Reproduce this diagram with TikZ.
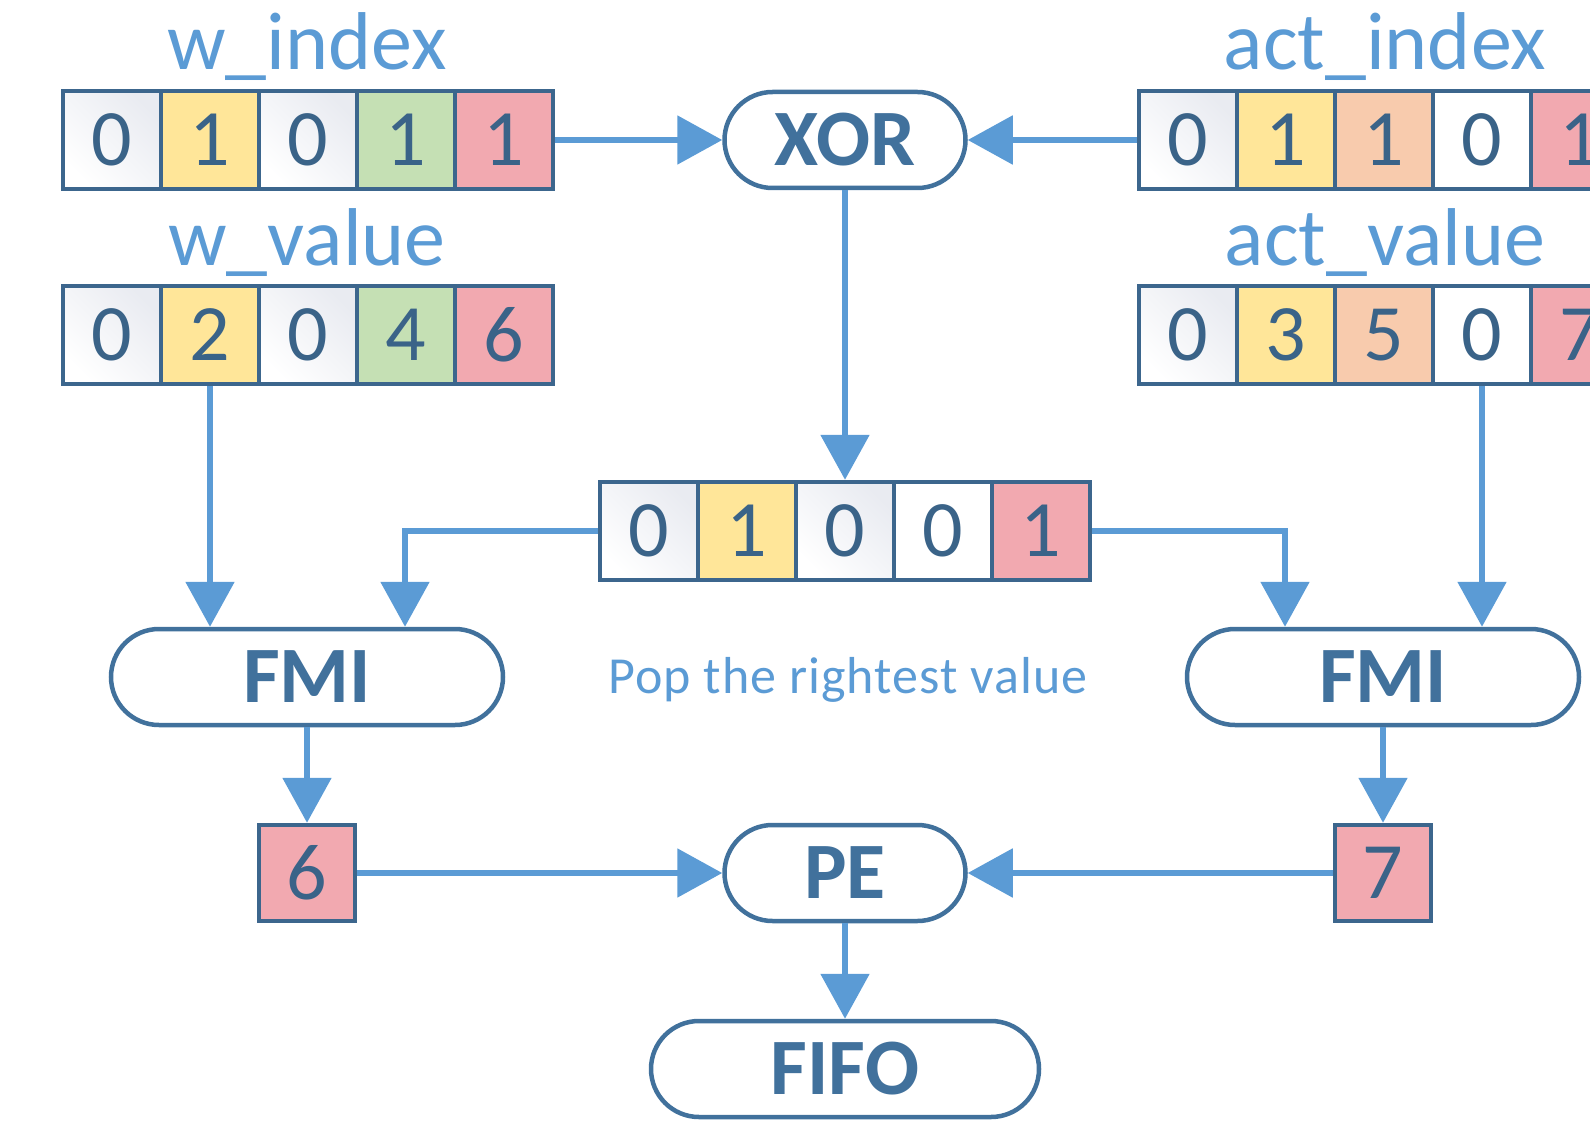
\documentclass[tikz,border=0pt]{standalone}
\usepackage{fontspec}
\setmainfont{Carlito}
\usetikzlibrary{arrows.meta}

\definecolor{edge}{HTML}{3C668D}
\definecolor{ink}{HTML}{3A6388}
\definecolor{boxink}{HTML}{41719C}
\definecolor{link}{HTML}{5B9BD5}
\definecolor{yel}{HTML}{FFE699}
\definecolor{grn}{HTML}{C5E0B4}
\definecolor{pnk}{HTML}{F2A9B0}
\definecolor{pch}{HTML}{F8CBAD}
\definecolor{haze}{HTML}{E9EBF1}

\tikzset{
  cell/.style={draw=edge, line width=4.5pt, minimum size=98pt, inner sep=0pt,
    text=ink, font=\fontsize{80}{96}\selectfont},
  wcell/.style={cell, fill=white},
  gcell/.style={cell, shading=axis, top color=haze, middle color=white,
    bottom color=white, shading angle=-45},
  ycell/.style={cell, fill=yel},
  ncell/.style={cell, fill=grn},
  pcell/.style={cell, fill=pnk},
  ocell/.style={cell, fill=pch},
  pill/.style={draw=boxink, line width=4.5pt, fill=white, rounded corners=48pt,
    minimum height=96pt, inner sep=0pt, text=boxink,
    font=\fontsize{80}{96}\selectfont\bfseries},
  tag/.style={anchor=base, text=link, inner sep=0pt,
    font=\fontsize{82}{98}\selectfont},
  arr/.style={draw=link, line width=5.5pt, -{Triangle[length=45pt, width=48pt]}},
}

\begin{document}
\begin{tikzpicture}[x=1pt, y=-1pt]
\useasboundingbox (0,0) rectangle (1590,1123);
\clip (0,0) rectangle (1590,1123);

% input vectors, weights on the left and activations on the right
\foreach \v/\s [count=\i] in {0/gcell,1/ycell,0/gcell,1/ncell,1/pcell}
  \node[\s] (wi\i) at ({63+49+98*(\i-1)},140) {\v};
\foreach \v/\s [count=\i] in {0/gcell,2/ycell,0/gcell,4/ncell,6/pcell}
  \node[\s] (wv\i) at ({63+49+98*(\i-1)},335) {\v};
\foreach \v/\s [count=\i] in {0/gcell,1/ycell,1/ocell,0/wcell,1/pcell}
  \node[\s] (ai\i) at ({1139+49+98*(\i-1)},140) {\v};
\foreach \v/\s [count=\i] in {0/gcell,3/ycell,5/ocell,0/wcell,7/pcell}
  \node[\s] (av\i) at ({1139+49+98*(\i-1)},335) {\v};

\node[tag] (lwi) at (307,70) {w\_index};
\node[tag] (lwv) at (307,266) {w\_value};
\node[tag] (lai) at (1385,70) {act\_index};
\node[tag] (lav) at (1385,266) {act\_value};

% XOR result
\foreach \v/\s [count=\i] in {0/gcell,1/ycell,0/gcell,0/wcell,1/pcell}
  \node[\s] (m\i) at ({600+49+98*(\i-1)},531) {\v};

\node[anchor=base, text=link, inner sep=0pt,
  font=\fontsize{52}{62}\selectfont\addfontfeature{LetterSpace=2}] (pop) at (848,693)
  {Pop the rightest value};

% operators
\node[pill, minimum width=241pt] (xor) at (845,140) {XOR};
\node[pill, minimum width=392pt] (fmiL) at (307,677) {FMI};
\node[pill, minimum width=392pt] (fmiR) at (1383,677) {FMI};
\node[pill, minimum width=241pt] (pe) at (845,873) {PE};
\node[pill, minimum width=388pt] (fifo) at (845,1069) {FIFO};

\node[pcell, minimum size=96pt] (o6) at (307,873) {6};
\node[pcell, minimum size=96pt] (o7) at (1383,873) {7};

% data flow
\draw[arr] (wi5.east) -- (xor.west);
\draw[arr] (ai1.west) -- (xor.east);
\draw[arr] (xor.south) -- (m3.north);
\draw[arr] (wv2.south) -- (wv2.south |- fmiL.north);
\draw[arr] (m1.west) -| ([xshift=98pt]fmiL.north);
\draw[arr] (m5.east) -| ([xshift=-98pt]fmiR.north);
\draw[arr] (av4.south) -- (av4.south |- fmiR.north);
\draw[arr] (fmiL.south) -- (o6.north);
\draw[arr] (fmiR.south) -- (o7.north);
\draw[arr] (o6.east) -- (pe.west);
\draw[arr] (o7.west) -- (pe.east);
\draw[arr] (pe.south) -- (fifo.north);
\end{tikzpicture}
\end{document}
